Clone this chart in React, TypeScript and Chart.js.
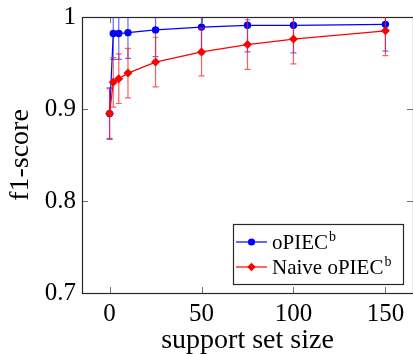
import React, { useEffect, useRef } from "react";
import { Chart, registerables } from "chart.js";

Chart.register(...registerables);

const supportSizes = [0, 2, 5, 10, 25, 50, 75, 100, 150];
const opiecF1 = [0.895, 0.982, 0.982, 0.983, 0.986, 0.989, 0.991, 0.991, 0.992];
const opiecErr = [0.028, 0.028, 0.028, 0.028, 0.029, 0.029, 0.029, 0.03, 0.029];
const naiveF1 = [0.895, 0.929, 0.933, 0.939, 0.951, 0.962, 0.97, 0.976, 0.985];
const naiveErr = [0.027, 0.027, 0.027, 0.027, 0.027, 0.026, 0.027, 0.027, 0.027];
const seriesNames = ["oPIEC^b", "Naive oPIEC^b"];
const xTicks = [0, 50, 100, 150];
const xTickLabels = ["0", "50", "100", "150"];
const yTicks = [0.7, 0.8, 0.9, 1.0];
const yTickLabels = ["0.7", "0.8", "0.9", "1"];
const xAxisTitle = "support set size";
const yAxisTitle = "f1-score";

const FONT = "'Liberation Serif', 'Times New Roman', serif";

const errorBarPlugin = {
  id: "errorBars",
  beforeDatasetDraw(chart: any, args: any) {
    const ds = chart.data.datasets[args.index];
    const errs: number[] = ds.errors;
    if (!errs) return;
    const ctx = chart.ctx;
    const xs = chart.scales.x;
    const ys = chart.scales.y;
    const ca = chart.chartArea;
    ctx.save();
    ctx.beginPath();
    ctx.rect(ca.left, ca.top, ca.right - ca.left, ca.bottom - ca.top);
    ctx.clip();
    ctx.strokeStyle = ds.errorColor;
    ctx.lineWidth = 1.2;
    ds.data.forEach((p: any, i: number) => {
      const px = xs.getPixelForValue(p.x);
      const t = ys.getPixelForValue(p.y + errs[i]);
      const b = ys.getPixelForValue(p.y - errs[i]);
      ctx.beginPath();
      ctx.moveTo(px, t);
      ctx.lineTo(px, b);
      ctx.moveTo(px - 3, t);
      ctx.lineTo(px + 3, t);
      ctx.moveTo(px - 3, b);
      ctx.lineTo(px + 3, b);
      ctx.stroke();
    });
    ctx.restore();
  },
};

const framePlugin = {
  id: "frame",
  beforeDatasetsDraw(chart: any) {
    const ctx = chart.ctx;
    const ca = chart.chartArea;
    const xs = chart.scales.x;
    const ys = chart.scales.y;
    ctx.save();
    ctx.strokeStyle = "rgba(110,110,110,1)";
    ctx.lineWidth = 1;
    const L = 6;
    xTicks.forEach((v) => {
      const px = Math.round(xs.getPixelForValue(v)) + 0.5;
      ctx.beginPath();
      ctx.moveTo(px, ca.bottom);
      ctx.lineTo(px, ca.bottom - L);
      ctx.moveTo(px, ca.top);
      ctx.lineTo(px, ca.top + L);
      ctx.stroke();
    });
    yTicks.forEach((v) => {
      const py = Math.round(ys.getPixelForValue(v)) + 0.5;
      ctx.beginPath();
      ctx.moveTo(ca.left, py);
      ctx.lineTo(ca.left + L, py);
      ctx.moveTo(ca.right, py);
      ctx.lineTo(ca.right - L, py);
      ctx.stroke();
    });
    ctx.strokeStyle = "rgba(40,40,40,1)";
    ctx.lineWidth = 1.2;
    ctx.strokeRect(Math.round(ca.left) + 0.5, Math.round(ca.top) + 0.5, ca.right - ca.left, ca.bottom - ca.top);
    ctx.restore();
  },
};

function drawMarker(ctx: CanvasRenderingContext2D, style: string, x: number, y: number, r: number, color: string) {
  ctx.fillStyle = color;
  ctx.beginPath();
  if (style === "rectRot") {
    ctx.moveTo(x, y - r);
    ctx.lineTo(x + r, y);
    ctx.lineTo(x, y + r);
    ctx.lineTo(x - r, y);
    ctx.closePath();
  } else {
    ctx.arc(x, y, r, 0, Math.PI * 2);
  }
  ctx.fill();
}

const legendPlugin = {
  id: "texLegend",
  afterDraw(chart: any) {
    const ctx = chart.ctx;
    const ca = chart.chartArea;
    const w = 170;
    const h = 60;
    const right = ca.right - 10;
    const bottom = ca.bottom - 9;
    const left = right - w;
    const top = bottom - h;
    ctx.save();
    ctx.fillStyle = "#fff";
    ctx.fillRect(left, top, w, h);
    ctx.strokeStyle = "rgba(40,40,40,1)";
    ctx.lineWidth = 1.2;
    ctx.strokeRect(Math.round(left) + 0.5, Math.round(top) + 0.5, w, h);
    chart.data.datasets.forEach((ds: any, i: number) => {
      const cy = top + 18 + i * 25;
      ctx.strokeStyle = ds.borderColor;
      ctx.lineWidth = 1.2;
      ctx.beginPath();
      ctx.moveTo(left + 3, cy);
      ctx.lineTo(left + 34, cy);
      ctx.stroke();
      drawMarker(ctx, ds.pointStyle, left + 18.5, cy, ds.pointStyle === "rectRot" ? 4.3 : 3.6, ds.borderColor);
      const [base, sup] = String(ds.label).split("^");
      ctx.fillStyle = "#000";
      ctx.textBaseline = "alphabetic";
      ctx.textAlign = "left";
      ctx.font = `21px ${FONT}`;
      const tx = left + 39;
      const by = cy + 7;
      ctx.fillText(base, tx, by);
      if (sup) {
        const bw = ctx.measureText(base).width;
        ctx.font = `14px ${FONT}`;
        ctx.fillText(sup, tx + bw + 1, by - 8);
      }
    });
    ctx.restore();
  },
};

export default function App() {
  const ref = useRef<HTMLCanvasElement | null>(null);
  useEffect(() => {
    document.body.style.margin = "0";
    const canvas = ref.current!;
    const chart = new Chart(canvas, {
      type: "line",
      data: {
        datasets: [
          {
            label: seriesNames[0],
            data: supportSizes.map((x, i) => ({ x, y: opiecF1[i] })),
            errors: opiecErr,
            errorColor: "rgba(40,40,255,0.7)",
            borderColor: "#0000ff",
            backgroundColor: "#0000ff",
            pointStyle: "circle",
            pointRadius: 3.7,
            pointBorderWidth: 0,
            borderWidth: 1.2,
            order: 2,
          } as any,
          {
            label: seriesNames[1],
            data: supportSizes.map((x, i) => ({ x, y: naiveF1[i] })),
            errors: naiveErr,
            errorColor: "rgba(255,25,25,0.7)",
            borderColor: "#ff0000",
            backgroundColor: "#ff0000",
            pointStyle: "rectRot",
            pointRadius: 4.5,
            pointBorderWidth: 0,
            borderWidth: 1.2,
            order: 1,
          } as any,
        ],
      },
      options: {
        animation: false,
        responsive: false,
        devicePixelRatio: 1,
        layout: { autoPadding: false, padding: { left: 0, top: 17, right: 0, bottom: 0 } },
        plugins: { legend: { display: false }, tooltip: { enabled: false } },
        scales: {
          x: {
            type: "linear",
            min: -15,
            max: 165,
            afterBuildTicks: (s: any) => {
              s.ticks = xTicks.map((v) => ({ value: v }));
            },
            afterFit: (s: any) => {
              s.height = 61;
              s.paddingLeft = 0;
              s.paddingRight = 0;
            },
            grid: { display: false, drawTicks: false },
            border: { display: false },
            ticks: {
              padding: 6,
              color: "#000",
              font: { family: FONT, size: 25 },
              maxRotation: 0,
              callback: (v: any) => xTickLabels[xTicks.indexOf(Number(v))] ?? "",
            },
            title: {
              display: true,
              text: xAxisTitle,
              color: "#000",
              font: { family: FONT, size: 28, lineHeight: 1 },
              padding: { top: 0, bottom: -1 },
            },
          },
          y: {
            type: "linear",
            min: 0.7,
            max: 1.0,
            afterBuildTicks: (s: any) => {
              s.ticks = yTicks.map((v) => ({ value: v }));
            },
            afterFit: (s: any) => {
              s.width = 82;
              s.paddingTop = 0;
              s.paddingBottom = 0;
            },
            grid: { display: false, drawTicks: false },
            border: { display: false },
            ticks: {
              padding: 6,
              color: "#000",
              font: { family: FONT, size: 25 },
              callback: (v: any) => {
                const i = yTicks.findIndex((t) => Math.abs(t - Number(v)) < 1e-9);
                return i >= 0 ? yTickLabels[i] : "";
              },
            },
            title: {
              display: true,
              text: yAxisTitle,
              color: "#000",
              font: { family: FONT, size: 28, lineHeight: 1 },
              padding: { top: 7, bottom: 0 },
            },
          },
        },
      },
      plugins: [framePlugin, errorBarPlugin, legendPlugin],
    } as any);
    return () => chart.destroy();
  }, []);
  return (
    <div style={{ width: 413, height: 354 }}>
      <canvas ref={ref} width={413} height={354} style={{ display: "block", width: 413, height: 354 }} />
    </div>
  );
}
